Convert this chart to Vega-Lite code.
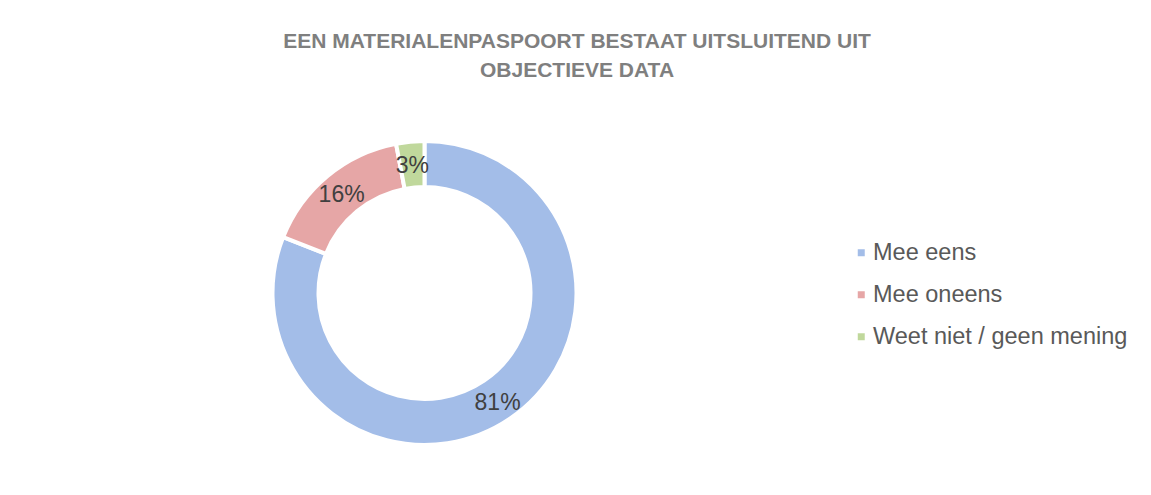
{
  "$schema": "https://vega.github.io/schema/vega-lite/v6.json",
  "autosize": "none",
  "width": 300,
  "height": 300,
  "padding": {"left": 274.5, "top": 143, "right": 576.5, "bottom": 52},
  "background": "white",
  "title": {
    "text": ["EEN MATERIALENPASPOORT BESTAAT UITSLUITEND UIT", "OBJECTIEVE DATA"],
    "font": "Liberation Sans",
    "fontSize": 21,
    "fontWeight": "bold",
    "color": "#7f7f7f",
    "anchor": "middle",
    "dx": 152.5,
    "offset": 52,
    "lineHeight": 29
  },
  "data": {
    "values": [
      {"category": "Mee eens", "pct": 81, "label": "81%", "idx": 1},
      {"category": "Mee oneens", "pct": 16, "label": "16%", "idx": 2},
      {"category": "Weet niet / geen mening", "pct": 3, "label": "3%", "idx": 3}
    ]
  },
  "encoding": {
    "theta": {"field": "pct", "type": "quantitative", "stack": true},
    "order": {"field": "idx", "type": "quantitative"}
  },
  "layer": [
    {
      "mark": {"type": "arc", "outerRadius": 152, "innerRadius": 106, "stroke": "white", "strokeWidth": 4},
      "encoding": {
        "color": {
          "field": "category",
          "type": "nominal",
          "scale": {
            "domain": ["Mee eens", "Mee oneens", "Weet niet / geen mening"],
            "range": ["#a3bde8", "#e6a6a6", "#c0d89c"]
          },
          "legend": {
            "title": null,
            "orient": "none",
            "legendX": 575,
            "legendY": 98,
            "labelFont": "Liberation Sans",
            "labelFontSize": 23.5,
            "labelColor": "#595959",
            "labelLimit": 500,
            "symbolType": "square",
            "symbolSize": 49,
            "symbolStrokeWidth": 0,
            "rowPadding": 17,
            "labelOffset": 0
          }
        }
      }
    },
    {
      "mark": {"type": "text", "radius": 130, "font": "Liberation Sans", "fontSize": 23, "fill": "#404040", "dy": 2},
      "encoding": {
        "text": {"field": "label", "type": "nominal"},
        "detail": {"field": "category", "type": "nominal"}
      }
    }
  ]
}
